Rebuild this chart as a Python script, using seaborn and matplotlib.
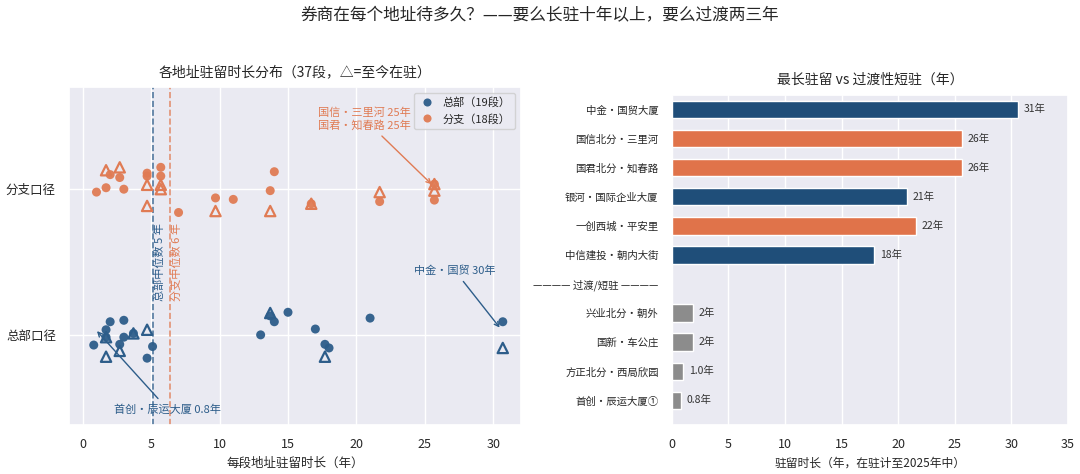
import numpy as np
import pandas as pd
import matplotlib
matplotlib.use("Agg")
import matplotlib.pyplot as plt
import seaborn as sns

sns.set_theme(style="darkgrid")
plt.rcParams['font.family'] = ['Noto Sans CJK SC', 'DejaVu Sans']
plt.rcParams['axes.unicode_minus'] = False

HQ_C = "#2d5d8a"
BR_C = "#e07b54"
HQ_BAR = "#1f4e79"
BR_BAR = "#e0734a"
GRAY = "#8c8c8c"

# ---- left panel data (years, vertical jitter) ----
hq_dot_x = [0.8, 1.7, 1.7, 2.0, 2.7, 3.0, 3.0, 3.7, 4.7, 5.1,
            13.0, 13.7, 14.0, 15.0, 17.0, 17.7, 18.0, 21.0, 30.7]
hq_dot_j = [-0.07, 0.035, -0.016, 0.09, -0.065, 0.10, -0.016, 0.01, -0.16, -0.08,
            0.0, 0.13, 0.09, 0.155, 0.04, -0.065, -0.09, 0.115, 0.09]
hq_tri_x = [1.7, 1.7, 2.7, 3.7, 4.7, 13.7, 17.7, 30.7]
hq_tri_j = [-0.016, -0.15, -0.11, 0.01, 0.035, 0.15, -0.15, -0.09]

br_dot_x = [1.0, 1.7, 2.0, 2.7, 3.0, 4.7, 4.7, 5.7, 5.7, 7.0,
            9.7, 11.0, 13.7, 14.0, 16.7, 21.7, 25.7, 25.7]
br_dot_j = [-0.02, 0.01, 0.10, 0.08, 0.0, 0.11, 0.09, 0.15, 0.09, -0.16,
            -0.06, -0.07, -0.01, 0.12, -0.10, -0.085, 0.035, -0.075]
br_tri_x = [1.7, 2.7, 4.7, 4.7, 5.7, 5.7, 9.7, 13.7, 16.7, 21.7, 25.7, 25.7]
br_tri_j = [0.13, 0.15, 0.03, -0.115, 0.03, 0.0, -0.15, -0.15, -0.10, -0.02, 0.035, -0.01]

hq_median = 5.1
br_median = 6.4

# ---- right panel data ----
bar_names = ["中金・国贸大厦", "国信北分・三里河", "国君北分・知春路", "银河・国际企业大厦",
             "一创西城・平安里", "中信建投・朝内大街", "———— 过渡/短驻 ————",
             "兴业北分・朝外", "国新・车公庄", "方正北分・西局欣园", "首创・辰运大厦①"]
bar_years = [30.6, 25.6, 25.6, 20.8, 21.6, 17.9, np.nan, 1.9, 1.9, 1.0, 0.8]
bar_kind = ["总部", "分支", "分支", "总部", "分支", "总部", "sep",
            "短驻", "短驻", "短驻", "短驻"]

fig = plt.figure(figsize=(10.8, 4.74), dpi=100)
ax1 = fig.add_axes([0.064, 0.103, 0.418, 0.713])
ax2 = fig.add_axes([0.622, 0.103, 0.367, 0.697])

fig.suptitle("券商在每个地址待多久？——要么长驻十年以上，要么过渡两三年",
             fontsize=12, y=0.985)

# left: strip-like scatter
dots = pd.concat([
    pd.DataFrame({"x": hq_dot_x, "y": np.array(hq_dot_j) + 0, "grp": "总部（19段）"}),
    pd.DataFrame({"x": br_dot_x, "y": np.array(br_dot_j) + 1, "grp": "分支（18段）"}),
])
sns.scatterplot(data=dots, x="x", y="y", hue="grp", palette=[HQ_C, BR_C],
                s=42, edgecolor="none", alpha=0.95, ax=ax1, zorder=3)
ax1.scatter(hq_tri_x, np.array(hq_tri_j) + 0, marker="^", s=55,
            facecolors="none", edgecolors=HQ_C, linewidths=1.6, zorder=4)
ax1.scatter(br_tri_x, np.array(br_tri_j) + 1, marker="^", s=55,
            facecolors="none", edgecolors=BR_C, linewidths=1.6, zorder=4)

ax1.axvline(hq_median, color=HQ_C, ls="--", lw=1.2, alpha=0.8, zorder=2)
ax1.axvline(br_median, color=BR_C, ls="--", lw=1.2, alpha=0.8, zorder=2)
ax1.text(hq_median + 0.1, 0.5, f"总部中位数 {hq_median:.0f} 年", rotation=90,
         color=HQ_C, fontsize=8, ha="left", va="center")
ax1.text(br_median + 0.1, 0.5, f"分支中位数 {br_median:.0f} 年", rotation=90,
         color=BR_C, fontsize=8, ha="left", va="center")

ax1.annotate("国信・三里河 25年\n国君・知春路 25年", xy=(25.65, 1.02), xytext=(20.6, 1.48),
             color=BR_C, fontsize=8, ha="center", va="center",
             arrowprops=dict(arrowstyle="->", color=BR_C, lw=1))
ax1.annotate("中金・国贸 30年", xy=(30.6, 0.035), xytext=(27.2, 0.44),
             color=HQ_C, fontsize=8, ha="center", va="center",
             arrowprops=dict(arrowstyle="->", color=HQ_C, lw=1))
ax1.annotate("首创・辰运大厦 0.8年", xy=(0.9, 0.04), xytext=(6.2, -0.51),
             color=HQ_C, fontsize=8, ha="center", va="center",
             arrowprops=dict(arrowstyle="->", color=HQ_C, lw=1))

ax1.set_xlim(-1, 32)
ax1.set_ylim(-0.62, 1.70)
ax1.set_yticks([0, 1])
ax1.set_yticklabels(["总部口径", "分支口径"], fontsize=9)
ax1.tick_params(axis="x", labelsize=9)
ax1.set_xlabel("每段地址驻留时长（年）", fontsize=9)
ax1.set_ylabel("")
ax1.set_title("各地址驻留时长分布（37段，△=至今在驻）", fontsize=10, pad=8)
leg = ax1.legend(loc="upper right", fontsize=8, frameon=True, markerscale=0.9,
                 handletextpad=0.6, borderpad=0.4, handlelength=1.6)
leg.get_frame().set_facecolor("#eaeaf2")

# right: bars
bars = pd.DataFrame({"name": bar_names, "years": bar_years, "kind": bar_kind})
pal = {"总部": HQ_BAR, "分支": BR_BAR, "短驻": GRAY, "sep": GRAY}
sns.barplot(data=bars, y="name", x="years", hue="kind", palette=pal, order=bar_names,
            dodge=False, width=0.6, saturation=1, edgecolor="white", linewidth=1,
            legend=False, ax=ax2)
for i, v in enumerate(bar_years):
    if np.isnan(v):
        continue
    lab = f"{v:.0f}年" if v >= 1.5 else f"{v:.1f}年"
    ax2.text(v + 0.5, i, lab, va="center", ha="left", fontsize=7.5, color="#333333")

ax2.set_xlim(0, 35)
ax2.set_ylim(10.85, -0.5)
ax2.tick_params(axis="y", labelsize=7.5)
ax2.tick_params(axis="x", labelsize=9)
ax2.set_ylabel("")
ax2.set_xlabel("驻留时长（年，在驻计至2025年中）", fontsize=8.5)
ax2.set_title("最长驻留 vs 过渡性短驻（年）", fontsize=10, pad=8)

fig.savefig("out.png", dpi=100)
